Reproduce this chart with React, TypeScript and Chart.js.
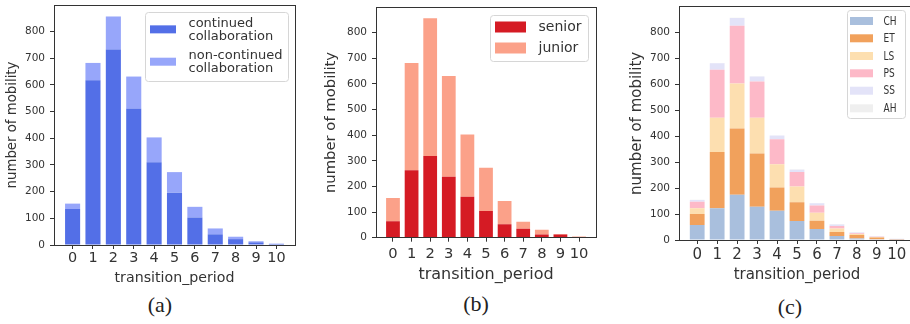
import React, { useEffect, useRef } from "react";
import { Chart, registerables } from "chart.js";

Chart.register(...registerables);

// ---------------- data ----------------
const periods = [0, 1, 2, 3, 4, 5, 6, 7, 8, 9, 10];
const yTickValues = [0, 100, 200, 300, 400, 500, 600, 700, 800];
const yMax = 899;
const xMin = -0.9125;
const xMax = 10.9125;

// (a) collaboration
const continued = [135, 617, 732, 510, 310, 196, 103, 40, 22, 10, 4];
const nonContinued = [20, 65, 124, 121, 93, 77, 40, 22, 9, 4, 1];

// (b) seniority
const senior = [64, 263, 319, 238, 160, 104, 52, 35, 12, 12, 1];
const junior = [91, 419, 537, 393, 243, 169, 91, 27, 19, 2, 4];

// (c) field
const fieldCH = [58, 122, 174, 128, 113, 73, 42, 15, 6, 3, 1];
const fieldET = [42, 217, 256, 205, 89, 72, 32, 16, 13, 7, 1];
const fieldLS = [22, 132, 173, 138, 90, 61, 31, 13, 4, 2, 1];
const fieldPS = [25, 185, 223, 140, 96, 56, 28, 10, 3, 1, 1];
const fieldSS = [7, 25, 29, 19, 15, 9, 9, 6, 3, 1, 1];
const fieldAH = [1, 1, 1, 1, 0, 2, 1, 2, 2, 0, 0];

const xTitle = "transition_period";
const yTitle = "number of mobility";

type Series = { lines: string[]; values: number[]; color: string };

const seriesA: Series[] = [
  { lines: ["continued", "collaboration"], values: continued, color: "#536FE7" },
  { lines: ["non-continued", "collaboration"], values: nonContinued, color: "#97A6FA" },
];
const seriesB: Series[] = [
  { lines: ["senior"], values: senior, color: "#D51B24" },
  { lines: ["junior"], values: junior, color: "#FBA189" },
];
const seriesC: Series[] = [
  { lines: ["CH"], values: fieldCH, color: "#A9BFDD" },
  { lines: ["ET"], values: fieldET, color: "#F1A15C" },
  { lines: ["LS"], values: fieldLS, color: "#FDDFB0" },
  { lines: ["PS"], values: fieldPS, color: "#FDB9C8" },
  { lines: ["SS"], values: fieldSS, color: "#E3E3F8" },
  { lines: ["AH"], values: fieldAH, color: "#EFEFEF" },
];

// ---------------- styles ----------------
type LegendStyle = {
  dx: number; dy: number; w: number; h: number;
  patchX: number; patchW: number; patchH: number;
  textX: number; fontSize: number; scaleX: number;
  lineCenters: number[][];
};
type PanelStyle = {
  canvasLeft: number; canvasWidth: number; canvasHeight: number;
  area: { left: number; right: number; top: number; bottom: number };
  yTitleCenter: number; yTitleSize: number; yTickSize: number; yTickPad: number;
  xTickSize: number; xTickPad: number; xTitleCenter: number; xTitleSize: number;
  caption: string; captionX: number; captionY: number;
  legend: LegendStyle;
};

const FONT = "DejaVu Sans";
const INK = "#333333";

const panels: { style: PanelStyle; series: Series[] }[] = [
  {
    series: seriesA,
    style: {
      canvasLeft: 0, canvasWidth: 300, canvasHeight: 290,
      area: { left: 54, right: 295, top: 5, bottom: 245 },
      yTitleCenter: 12.5, yTitleSize: 13.3, yTickSize: 10.5, yTickPad: 5,
      xTickSize: 14.4, xTickPad: 1, xTitleCenter: 278.3, xTitleSize: 14.2,
      caption: "(a)", captionX: 160, captionY: 305,
      legend: {
        dx: 7, dy: 7.3, w: 143, h: 69, patchX: 5, patchW: 26, patchH: 8,
        textX: 43, fontSize: 13, scaleX: 1,
        lineCenters: [[11, 23.7], [43, 56.4]],
      },
    },
  },
  {
    series: seriesB,
    style: {
      canvasLeft: 300, canvasWidth: 310, canvasHeight: 290,
      area: { left: 376, right: 596, top: 7.3, bottom: 237.7 },
      yTitleCenter: 331, yTitleSize: 14.8, yTickSize: 10.5, yTickPad: 5,
      xTickSize: 14.7, xTickPad: 4, xTitleCenter: 275, xTitleSize: 16,
      caption: "(b)", captionX: 476, captionY: 304,
      legend: {
        dx: 8, dy: 7.7, w: 98, h: 46, patchX: 5, patchW: 31, patchH: 11,
        textX: 48, fontSize: 14, scaleX: 1,
        lineCenters: [[12], [33]],
      },
    },
  },
  {
    series: seriesC,
    style: {
      canvasLeft: 610, canvasWidth: 310, canvasHeight: 290,
      area: { left: 679, right: 915, top: 6.7, bottom: 240 },
      yTitleCenter: 637, yTitleSize: 15, yTickSize: 10.5, yTickPad: 5,
      xTickSize: 15, xTickPad: 2, xTitleCenter: 275.6, xTitleSize: 15,
      caption: "(c)", captionX: 790, captionY: 307,
      legend: {
        dx: 10, dy: 3.3, w: 58, h: 108, patchX: 3, patchW: 23, patchH: 8,
        textX: 36, fontSize: 12, scaleX: 0.75,
        lineCenters: [[11], [28.3], [46], [63.3], [80.7], [98.3]],
      },
    },
  },
];

function framePlugin() {
  return {
    id: "frame",
    afterDatasetsDraw(chart: any) {
      const { ctx, chartArea } = chart;
      const l = Math.floor(chartArea.left) + 0.5;
      const t = Math.floor(chartArea.top) + 0.5;
      const r = Math.floor(chartArea.right) + 0.5;
      const b = Math.floor(chartArea.bottom) + 0.5;
      ctx.save();
      ctx.strokeStyle = INK;
      ctx.lineWidth = 1;
      ctx.strokeRect(l, t, r - l, b - t);
      ctx.restore();
    },
  };
}

function legendPlugin(series: Series[], lg: LegendStyle) {
  return {
    id: "boxLegend",
    afterDraw(chart: any) {
      const { ctx, chartArea } = chart;
      const x0 = Math.round(chartArea.right - lg.dx - lg.w) + 0.5;
      const y0 = Math.round(chartArea.top + lg.dy) + 0.5;
      ctx.save();
      ctx.beginPath();
      const rad = 3;
      ctx.moveTo(x0 + rad, y0);
      ctx.arcTo(x0 + lg.w, y0, x0 + lg.w, y0 + lg.h, rad);
      ctx.arcTo(x0 + lg.w, y0 + lg.h, x0, y0 + lg.h, rad);
      ctx.arcTo(x0, y0 + lg.h, x0, y0, rad);
      ctx.arcTo(x0, y0, x0 + lg.w, y0, rad);
      ctx.closePath();
      ctx.fillStyle = "rgba(255,255,255,0.85)";
      ctx.fill();
      ctx.strokeStyle = "#d6d6d6";
      ctx.lineWidth = 1;
      ctx.stroke();
      series.forEach((s, i) => {
        const lines = lg.lineCenters[i];
        const cy = (lines[0] + lines[lines.length - 1]) / 2;
        ctx.fillStyle = s.color;
        ctx.fillRect(x0 - 0.5 + lg.patchX, y0 - 0.5 + cy - lg.patchH / 2, lg.patchW, lg.patchH);
        ctx.fillStyle = INK;
        ctx.font = `${lg.fontSize}px "${FONT}"`;
        ctx.textBaseline = "middle";
        ctx.textAlign = "left";
        s.lines.forEach((txt, j) => {
          ctx.save();
          ctx.translate(x0 + lg.textX, y0 + lines[j]);
          ctx.scale(lg.scaleX, 1);
          ctx.fillText(txt, 0, 0);
          ctx.restore();
        });
      });
      ctx.restore();
    },
  };
}

function buildConfig(series: Series[], st: PanelStyle): any {
  const L = st.canvasLeft;
  const yTitleLH = st.yTitleSize * 1.2;
  const padLeft = st.yTitleCenter - L - yTitleLH / 2;
  const padTop = st.area.top;
  const padRight = L + st.canvasWidth - st.area.right;
  const yWidth = st.area.left - L - padLeft;
  const xHeight = st.canvasHeight - st.area.bottom;
  const xTitleLH = st.xTitleSize * 1.2;
  const xTitlePadBottom = st.canvasHeight - st.xTitleCenter - xTitleLH / 2;

  return {
    type: "bar",
    data: {
      datasets: series.map((s) => ({
        label: s.lines.join(" "),
        data: periods.map((p, i) => ({ x: p, y: s.values[i] })),
        backgroundColor: s.color,
        borderWidth: 0,
        barPercentage: 0.74,
        categoryPercentage: 1,
      })),
    },
    options: {
      responsive: false,
      animation: false,
      devicePixelRatio: 1,
      events: [],
      layout: { padding: { left: padLeft, top: padTop, right: padRight, bottom: 0 } },
      plugins: { legend: { display: false }, tooltip: { enabled: false } },
      scales: {
        x: {
          type: "linear",
          min: xMin,
          max: xMax,
          stacked: true,
          offset: false,
          afterBuildTicks: (s: any) => {
            s.ticks = periods.map((v) => ({ value: v }));
          },
          afterFit: (s: any) => {
            s.height = xHeight;
            s.paddingLeft = 0;
            s.paddingRight = 0;
          },
          ticks: {
            autoSkip: false,
            maxRotation: 0,
            minRotation: 0,
            padding: st.xTickPad,
            color: INK,
            font: { family: FONT, size: st.xTickSize },
            callback: (v: any) => String(v),
          },
          grid: { offset: false, drawOnChartArea: false, drawTicks: true, tickLength: 4, color: INK, lineWidth: 1 },
          border: { display: false },
          title: {
            display: true,
            text: xTitle,
            color: INK,
            font: { family: FONT, size: st.xTitleSize },
            padding: { top: 0, bottom: xTitlePadBottom },
          },
        },
        y: {
          type: "linear",
          min: 0,
          max: yMax,
          stacked: true,
          afterBuildTicks: (s: any) => {
            s.ticks = yTickValues.map((v) => ({ value: v }));
          },
          afterFit: (s: any) => {
            s.width = yWidth;
            s.paddingTop = 0;
            s.paddingBottom = 0;
          },
          ticks: {
            padding: st.yTickPad,
            color: INK,
            font: { family: FONT, size: st.yTickSize },
            callback: (v: any) => String(v),
          },
          grid: { drawOnChartArea: false, drawTicks: true, tickLength: 4, color: INK, lineWidth: 1 },
          border: { display: false },
          title: {
            display: true,
            text: yTitle,
            color: INK,
            font: { family: FONT, size: st.yTitleSize },
            padding: 0,
          },
        },
      },
    },
    plugins: [framePlugin(), legendPlugin(series, st.legend)],
  };
}

function Panel({ series, style }: { series: Series[]; style: PanelStyle }) {
  const ref = useRef<HTMLCanvasElement | null>(null);
  useEffect(() => {
    if (!ref.current) return;
    const chart = new Chart(ref.current, buildConfig(series, style));
    return () => chart.destroy();
  }, [series, style]);
  return (
    <>
      <canvas
        ref={ref}
        width={style.canvasWidth}
        height={style.canvasHeight}
        style={{
          position: "absolute",
          left: style.canvasLeft,
          top: 0,
          width: style.canvasWidth,
          height: style.canvasHeight,
          display: "block",
        }}
      />
      <div
        style={{
          position: "absolute",
          left: style.captionX - 50,
          top: style.captionY - 13,
          width: 100,
          height: 26,
          lineHeight: "26px",
          textAlign: "center",
          fontFamily: '"Liberation Serif", "Times New Roman", serif',
          fontSize: 22,
          color: "#222",
        }}
      >
        {style.caption}
      </div>
    </>
  );
}

export default function App() {
  return (
    <div
      style={{
        position: "absolute",
        left: 0,
        top: 0,
        width: 910,
        height: 324,
        overflow: "hidden",
        background: "#ffffff",
      }}
    >
      {panels.map((p, i) => (
        <Panel key={i} series={p.series} style={p.style} />
      ))}
    </div>
  );
}
